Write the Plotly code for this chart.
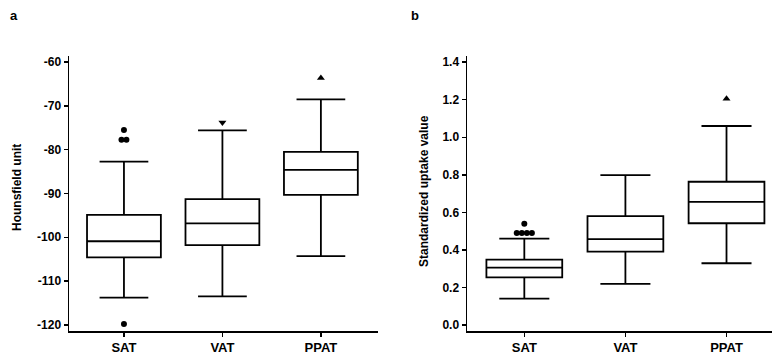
import plotly.graph_objects as go
from collections import Counter

categories = ["SAT", "VAT", "PPAT"]

# Panel a: Hounsfield unit
hu_ticks = [-120, -110, -100, -90, -80, -70, -60]
hu_ticklabels = ["-120", "-110", "-100", "-90", "-80", "-70", "-60"]
hu_q1 = [-104.6, -101.8, -90.3]
hu_median = [-100.9, -96.8, -84.6]
hu_q3 = [-94.9, -91.3, -80.5]
hu_lower = [-113.8, -113.5, -104.3]
hu_upper = [-82.7, -75.6, -68.5]
hu_outliers = {"SAT": [-75.5, -77.7, -77.7, -119.8], "VAT": [-73.8], "PPAT": [-63.6]}

# Panel b: Standardized uptake value
suv_ticks = [0.0, 0.2, 0.4, 0.6, 0.8, 1.0, 1.2, 1.4]
suv_ticklabels = ["0.0", "0.2", "0.4", "0.6", "0.8", "1.0", "1.2", "1.4"]
suv_q1 = [0.254, 0.391, 0.542]
suv_median = [0.306, 0.457, 0.656]
suv_q3 = [0.348, 0.580, 0.763]
suv_lower = [0.140, 0.219, 0.329]
suv_upper = [0.460, 0.798, 1.060]
suv_outliers = {"SAT": [0.49, 0.49, 0.49, 0.49, 0.54], "PPAT": [1.205]}

marker_symbols = {"SAT": "circle", "VAT": "triangle-down", "PPAT": "triangle-up"}

fig = go.Figure()

def spread(vals, step=0.05):
    counts = Counter(vals)
    seen = Counter()
    offs = []
    for v in vals:
        n = counts[v]
        offs.append((seen[v] - (n - 1) / 2) * step)
        seen[v] += 1
    return offs

def add_panel(xa, ya, q1, med, q3, lo, hi, outl):
    fig.add_trace(go.Box(
        x=list(range(len(categories))), q1=q1, median=med, q3=q3,
        lowerfence=lo, upperfence=hi, width=0.75, whiskerwidth=0.66,
        fillcolor="white", line=dict(color="black", width=1.8),
        boxpoints=False, xaxis=xa, yaxis=ya, showlegend=False, hoverinfo="skip"))
    for cat, vals in outl.items():
        i = categories.index(cat)
        offs = spread(vals)
        fig.add_trace(go.Scatter(
            x=[i + o for o in offs], y=vals, mode="markers",
            marker=dict(symbol=marker_symbols[cat], color="black", size=6 if cat == "SAT" else 7),
            xaxis=xa, yaxis=ya, showlegend=False, hoverinfo="skip"))

add_panel("x", "y", hu_q1, hu_median, hu_q3, hu_lower, hu_upper, hu_outliers)
add_panel("x2", "y2", suv_q1, suv_median, suv_q3, suv_lower, suv_upper, suv_outliers)

W, H = 772, 356
T, B = 56, 25
PH = H - T - B

def py(pix):
    # convert pixel row (from top of figure) to paper y
    return (H - B - pix) / PH

FONT = "Liberation Sans, Arial, sans-serif"
tickfont = dict(family=FONT, size=12, color="black", weight="bold")
xtickfont = dict(family=FONT, size=13, color="black", weight="bold")
common_x = dict(tickvals=[0, 1, 2], ticktext=categories, showline=True, linecolor="black",
                linewidth=1.5, ticks="outside", ticklen=4, tickwidth=1.5, tickcolor="black",
                showgrid=False, zeroline=False, tickfont=xtickfont, fixedrange=True)
common_y = dict(showline=True, linecolor="black", linewidth=1.5, ticks="outside", ticklen=4,
                tickwidth=1.5, tickcolor="black", showgrid=False, zeroline=False,
                tickfont=tickfont, fixedrange=True)

fig.update_layout(
    width=W, height=H, margin=dict(l=0, r=0, t=T, b=B),
    paper_bgcolor="white", plot_bgcolor="white",
    xaxis=dict(domain=[69 / W, 378 / W], range=[-0.558, 2.58], anchor="y", **common_x),
    yaxis=dict(domain=[0, 1], range=[-121.4, -58.6], tickvals=hu_ticks, ticktext=hu_ticklabels,
               anchor="x", **common_y),
    xaxis2=dict(domain=[467 / W, 1.0], range=[-0.567, 2.45], anchor="y2", **common_x),
    yaxis2=dict(domain=[0, 1], range=[-0.032, 1.433], tickvals=suv_ticks, ticktext=suv_ticklabels,
                anchor="x2", **common_y),
    annotations=[
        dict(text="a", x=14 / W, y=py(16), xref="paper", yref="paper", showarrow=False,
             xanchor="center", yanchor="middle",
             font=dict(family=FONT, size=13, color="black", weight="bold")),
        dict(text="b", x=415 / W, y=py(16), xref="paper", yref="paper", showarrow=False,
             xanchor="center", yanchor="middle",
             font=dict(family=FONT, size=13, color="black", weight="bold")),
        dict(text="Hounsfield unit", x=17 / W, y=py(188), xref="paper", yref="paper",
             showarrow=False, textangle=-90, xanchor="center", yanchor="middle",
             font=dict(family=FONT, size=12, color="black", weight="bold")),
        dict(text="Standardized uptake value", x=424 / W, y=py(191), xref="paper", yref="paper",
             showarrow=False, textangle=-90, xanchor="center", yanchor="middle",
             font=dict(family=FONT, size=12, color="black", weight="bold")),
    ],
)

fig.write_html("out.html", config={"displayModeBar": False, "staticPlot": True},
               post_script="document.body.style.margin='0';document.body.style.overflow='hidden';")
